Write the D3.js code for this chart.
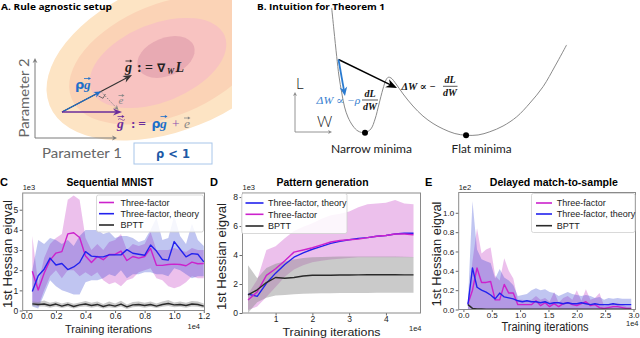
<!DOCTYPE html>
<html><head><meta charset="utf-8">
<script src="https://cdnjs.cloudflare.com/ajax/libs/d3/7.8.5/d3.min.js"></script>
<style>
html,body{margin:0;padding:0;background:#fff;}
svg{display:block;}
.mpl text{font-family:"Liberation Sans Narrow","Liberation Sans",sans-serif;}
</style></head><body>
<svg id="fig" width="640" height="338"></svg>
<script>
// ---------------- Panel C : Sequential MNIST (x: 1e4 iterations, y: 1e3) ----------------
const cX = [0.04,0.08,0.12,0.16,0.20,0.24,0.28,0.32,0.36,0.40,0.44,0.48,0.52,0.56,0.60,0.64,0.68,0.72,0.76,0.80,0.84,0.88,0.92,0.96,1.00,1.04,1.08,1.12,1.16,1.20];
const cThree   = [1.95,1.02,1.85,2.5,2.85,2.92,3.8,3.86,3.62,2.7,2.38,2.68,2.52,2.78,2.78,2.95,2.48,2.68,2.6,2.68,3.08,2.24,2.24,2.28,2.3,2.28,2.22,2.4,2.32,2.33];
const cThreeHi = [3.7,1.3,2.6,3.3,3.6,3.8,5.5,5.7,5.5,3.6,3.0,3.3,3.0,3.4,3.5,3.8,3.0,3.3,3.2,3.3,3.9,3.0,3.0,3.0,3.1,3.0,2.9,3.1,3.0,3.0];
const cThreeLo = [0.4,0.2,1.0,1.7,2.0,1.6,2.0,2.0,1.7,1.9,1.7,1.9,1.5,1.3,1.4,1.2,1.5,1.6,1.9,2.0,2.1,1.6,1.5,1.2,1.1,1.2,1.4,1.7,1.6,1.6];
const cTheory   = [0.94,1.72,2.05,2.6,2.26,2.33,2.03,2.16,2.38,2.92,2.7,2.67,2.66,2.76,2.76,2.76,3.02,2.84,2.79,2.74,3.25,2.95,2.54,2.5,3.42,3.04,2.66,2.82,2.79,2.41];
const cTheoryHi = [2.0,3.5,3.3,3.6,3.5,3.3,3.5,3.2,3.7,4.0,4.0,4.0,3.8,3.9,3.6,3.7,3.7,3.6,3.4,3.5,4.0,4.6,3.5,3.6,4.7,3.7,3.3,4.3,3.5,3.2];
const cTheoryLo = [0.2,0.1,0.8,1.5,1.2,1.0,0.9,0.8,0.8,1.4,1.5,1.5,1.6,1.8,1.7,2.0,1.6,1.8,1.8,1.9,1.9,1.8,1.8,1.7,2.1,2.0,1.8,1.6,1.7,1.7];
const cBptt   = [0.33,0.3,0.32,0.25,0.32,0.22,0.3,0.2,0.28,0.32,0.25,0.3,0.2,0.28,0.22,0.32,0.18,0.28,0.3,0.25,0.3,0.22,0.3,0.35,0.28,0.3,0.25,0.32,0.3,0.22];
const cBpttHi = [0.45,0.42,0.5,0.38,0.45,0.35,0.42,0.33,0.4,0.47,0.38,0.45,0.32,0.45,0.35,0.48,0.3,0.42,0.45,0.38,0.45,0.35,0.45,0.52,0.4,0.45,0.38,0.47,0.45,0.35];
const cBpttLo = [0.22,0.2,0.2,0.14,0.2,0.12,0.18,0.1,0.17,0.2,0.14,0.18,0.1,0.16,0.12,0.2,0.08,0.16,0.18,0.14,0.18,0.12,0.18,0.22,0.16,0.18,0.14,0.2,0.18,0.12];
const cXTicks = [0,0.2,0.4,0.6,0.8,1.0,1.2];
const cYTicks = [0,1,2,3,4,5];

// ---------------- Panel D : Pattern generation ----------------
const dX = [0.25,0.5,0.75,1.0,1.25,1.5,1.75,2.0,2.25,2.5,2.75,3.0,3.25,3.5,3.75,4.0,4.25,4.5,4.75];
const dTheory = [1.3,1.15,2.05,2.75,3.35,3.85,4.15,4.4,4.6,4.8,4.95,5.05,5.15,5.2,5.3,5.35,5.45,5.5,5.5];
const dThree  = [0.9,1.45,2.6,3.05,3.6,4.2,4.35,4.5,4.7,4.9,5.0,5.05,5.1,5.2,5.3,5.35,5.45,5.45,5.4];
const dThreeHi = [1.3,2.3,4.35,4.6,5.15,5.65,5.95,6.2,6.5,6.75,6.85,7.0,7.3,7.5,7.55,7.6,7.8,7.55,7.5];
const dThreeLo = [0.2,0.45,1.1,1.8,2.5,3.0,3.3,3.5,3.6,3.7,3.75,3.8,3.85,3.85,3.85,3.85,3.85,3.85,3.85];
const dBptt   = [1.25,1.6,2.1,2.45,2.4,2.45,2.55,2.6,2.6,2.6,2.62,2.62,2.63,2.64,2.64,2.64,2.64,2.63,2.63];
const dBpttHi = [3.3,2.4,3.1,3.4,3.55,3.7,3.8,3.85,3.87,3.88,3.9,3.9,3.9,3.9,3.9,3.9,3.9,3.88,3.87];
const dBpttLo = [0.0,0.75,1.05,1.2,1.25,1.3,1.32,1.35,1.36,1.37,1.38,1.38,1.38,1.38,1.39,1.39,1.4,1.4,1.4];
const dXTicks = [1,2,3,4];
const dYTicks = [0,2,4,6,8];

// ---------------- Panel E : Delayed match-to-sample (y: 1e2) ----------------
const eX = [0.08,0.16,0.24,0.32,0.40,0.48,0.56,0.64,0.72,0.80,0.88,0.96,1.04,1.12,1.20,1.28,1.36,1.44,1.52,1.60,1.68,1.76,1.84,1.92,2.00,2.08,2.16,2.24,2.32,2.40,2.48,2.56,2.64,2.72,2.80,2.88,2.96];
const eThree   = [0.06,0.2,0.43,0.28,0.28,0.29,0.1,0.1,0.26,0.17,0.17,0.05,0.05,0.05,0.05,0.09,0.04,0.07,0.03,0.06,0.03,0.06,0.07,0.05,0.04,0.06,0.08,0.04,0.05,0.02,0.01,0.02,0.03,0.03,0.02,0.01,0.01];
const eThreeHi = [0.07,0.5,0.84,0.58,0.62,0.64,0.35,0.3,0.53,0.4,0.32,0.1,0.1,0.09,0.1,0.14,0.1,0.12,0.08,0.18,0.07,0.12,0.14,0.1,0.2,0.09,0.21,0.1,0.12,0.17,0.04,0.05,0.06,0.07,0.05,0.03,0.03];
const eThreeLo = [0,0,0,0,0,0,0,0,0,0,0,0,0,0,0,0,0,0,0,0,0,0,0,0,0,0,0,0,0,0,0,0,0,0,0,0,0];
const eTheory   = [0.05,0.43,0.23,0.2,0.18,0.15,0.11,0.17,0.13,0.12,0.11,0.09,0.08,0.09,0.08,0.08,0.07,0.08,0.06,0.07,0.07,0.06,0.07,0.06,0.06,0.07,0.06,0.05,0.06,0.05,0.05,0.05,0.06,0.05,0.05,0.05,0.05];
const eTheoryHi = [0.08,1.12,0.62,0.52,0.5,0.48,0.32,0.42,0.33,0.3,0.25,0.14,0.15,0.16,0.2,0.22,0.2,0.21,0.18,0.17,0.14,0.16,0.18,0.16,0.15,0.14,0.15,0.14,0.12,0.13,0.1,0.12,0.11,0.12,0.11,0.11,0.11];
const eTheoryLo = [0,0,0,0,0,0,0,0,0,0,0,0,0,0,0,0,0,0,0,0,0,0,0,0,0,0,0,0,0,0,0,0,0,0,0,0,0];
const eBptt = [0.05,0.012,0.006,0.005,0.004,0.004,0.004,0.004,0.003,0.003,0.003,0.003,0.003,0.003,0.003,0.003,0.003,0.003,0.003,0.003,0.003,0.003,0.003,0.003,0.003,0.003,0.003,0.003,0.003,0.003,0.003,0.003,0.003,0.003,0.003,0.003,0.003];
const eXTicks = [0,0.5,1.0,1.5,2.0,2.5,3.0];
const eYTicks = [0,0.2,0.4,0.6,0.8,1.0];

// ---------------- Panel B : loss landscape (arbitrary units) ----------------
const bW = [1.31,1.39,1.49,1.57,1.67,1.77,1.89,2.07,2.25,2.5,2.71,2.86,3.0,3.14,3.25,3.33,3.43,3.61,3.86,4.21,4.57,4.93,5.29,5.71,6.11,6.54,6.96,7.43,7.92,8.39,8.86,9.29,9.7];
const bL = [9.43,7.86,5.95,4.57,3.36,2.36,1.64,1.0,0.64,0.52,0.79,1.5,2.57,3.64,4.29,4.48,4.43,4.0,3.29,2.43,1.71,1.18,0.79,0.46,0.34,0.36,0.59,1.0,1.66,2.64,3.81,5.29,6.79];
const bMinW = [2.5,6.11];
const bMinL = [0.52,0.34];
const bMinLabels = ["Narrow minima","Flat minima"];

// ---------------- colours ----------------
const MAG = '#cc22cc', BLU = '#2222ee', BLK = '#2a2a2a';

const svg = d3.select('#fig');
const defs = svg.append('defs');

function arrow(g, x1, y1, x2, y2, color, w, hl, hw, dash) {
  const dx = x2 - x1, dy = y2 - y1, L = Math.hypot(dx, dy), ux = dx / L, uy = dy / L;
  const bx = x2 - ux * hl, by = y2 - uy * hl;
  g.append('line').attr('x1', x1).attr('y1', y1).attr('x2', bx + ux * hl * 0.3).attr('y2', by + uy * hl * 0.3)
    .attr('stroke', color).attr('stroke-width', w).attr('stroke-dasharray', dash || null);
  g.append('path')
    .attr('d', `M${x2},${y2}L${bx - uy * hw},${by + ux * hw}L${bx + ux * hl * 0.3},${by + uy * hl * 0.3}L${bx + uy * hw},${by - ux * hw}Z`)
    .attr('fill', color);
}
function vecArrow(g, x, y, w, color) {
  g.append('line').attr('x1', x).attr('y1', y).attr('x2', x + w - 1.5).attr('y2', y).attr('stroke', color).attr('stroke-width', 0.8);
  g.append('path').attr('d', `M${x + w},${y}L${x + w - 2.6},${y - 1.6}L${x + w - 2.6},${y + 1.6}Z`).attr('fill', color);
}
function txt(g, x, y, s, o) {
  const t = g.append('text').attr('x', x).attr('y', y).text(s);
  Object.entries(o || {}).forEach(([k, v]) => t.attr(k, v));
  return t;
}

// ================= Panel A =================
const A = svg.append('g');
defs.append('clipPath').attr('id', 'clipA').append('rect').attr('x', 0).attr('y', 0).attr('width', 232).attr('height', 338);
const ellG = A.append('g').attr('clip-path', 'url(#clipA)');
[[172, 56, 132, 74, '#fde4c4'], [166, 60, 102, 56, '#fbd3b6'], [158, 63, 72, 39, '#f8c3c1'], [166, 57, 30, 19, '#e8aab3']]
  .forEach(([cx, cy, rx, ry, f]) => ellG.append('ellipse').attr('cx', 0).attr('cy', 0).attr('rx', rx).attr('ry', ry)
    .attr('transform', `translate(${cx},${cy}) rotate(-22)`).attr('fill', f));
txt(A, 1, 10, 'A. Rule agnostic setup', { 'font-family': 'Open Sans, sans-serif', 'font-weight': 'bold', 'font-size': 9.5, textLength: 111, lengthAdjust: 'spacingAndGlyphs' });
// axes
arrow(A, 35, 138, 35, 58, '#7a7a7a', 1, 5, 2.4);
arrow(A, 35, 138, 117, 138, '#7a7a7a', 1, 5, 2.4);
A.append('text').attr('transform', 'translate(29,98) rotate(-90)').attr('text-anchor', 'middle')
  .attr('font-family', 'Lato, sans-serif').attr('font-size', 12.5).attr('fill', '#666')
  .attr('textLength', 79).attr('lengthAdjust', 'spacingAndGlyphs').text('Parameter 2');
txt(A, 42, 158, 'Parameter 1', { 'font-family': 'Lato, sans-serif', 'font-size': 12.5, fill: '#666', textLength: 80, lengthAdjust: 'spacingAndGlyphs' });
// rho box
A.append('rect').attr('x', 134).attr('y', 143).attr('width', 78).attr('height', 21).attr('fill', '#fff').attr('stroke', '#a8c6ea').attr('stroke-width', 1);
txt(A, 173, 158, 'ρ < 1', { 'text-anchor': 'middle', 'font-family': 'DejaVu Sans, sans-serif', 'font-weight': 'bold', 'font-size': 11.5, fill: '#1d5aa6' });
// vectors
const O = [62, 112];
arrow(A, O[0], O[1], 132, 75, '#333', 1.1, 9, 3.6);
arrow(A, O[0], O[1], 101, 91.5, '#1f6fc9', 1.1, 7, 3);
arrow(A, O[0], O[1], 122, 112, '#6a2c9b', 1.4, 9, 3.6);
arrow(A, 101, 91.5, 118.5, 110, '#888', 1, 5, 2.4, '1.5,1.5');
A.append('path').attr('d', 'M98.5,96 L103,98.3 L105.4,94').attr('fill', 'none').attr('stroke', '#555').attr('stroke-width', 0.8);
// labels
const serif = 'Liberation Serif, DejaVu Serif, serif';
const bi = { 'font-family': serif, 'font-weight': 'bold', 'font-style': 'italic', 'font-size': 14 };
txt(A, 125, 72, 'g', Object.assign({}, bi, { fill: '#222' }));
vecArrow(A, 125.5, 61, 7, '#222');
txt(A, 137, 72, ':=', { 'font-family': serif, 'font-weight': 'bold', 'font-size': 14, fill: '#222', textLength: 16, lengthAdjust: 'spacing' });
txt(A, 157, 72, '∇', { 'font-family': 'DejaVu Sans', 'font-weight': 'bold', 'font-size': 12, fill: '#222' });
txt(A, 167, 74, 'W', { 'font-family': serif, 'font-weight': 'bold', 'font-style': 'italic', 'font-size': 8, fill: '#222' });
txt(A, 175.5, 72, 'L', Object.assign({}, bi, { fill: '#222' }));
txt(A, 75, 89, 'ρ', { 'font-family': 'DejaVu Sans', 'font-weight': 'bold', 'font-size': 13, fill: '#1f6fc9' });
txt(A, 84, 89, 'g', Object.assign({}, bi, { 'font-size': 13, fill: '#1f6fc9' }));
vecArrow(A, 84, 78.5, 7, '#1f6fc9');
txt(A, 118.5, 104, 'e', { 'font-family': serif, 'font-style': 'italic', 'font-size': 11, fill: '#888' });
vecArrow(A, 118.5, 95.5, 6, '#888');
txt(A, 117, 128, 'g', Object.assign({}, bi, { 'font-size': 13.5, fill: '#6a2c9b' }));
vecArrow(A, 117.5, 116.5, 7, '#6a2c9b');
A.append('path').attr('d', 'M118,119.5 q1.8,-1.8 3.5,0 q1.8,1.8 3.5,0').attr('fill', 'none').attr('stroke', '#6a2c9b').attr('stroke-width', 0.7);
txt(A, 131, 128, ':=', { 'font-family': serif, 'font-weight': 'bold', 'font-size': 13.5, fill: '#6a2c9b', textLength: 15, lengthAdjust: 'spacing' });
txt(A, 151.5, 128, 'ρ', { 'font-family': 'DejaVu Sans', 'font-weight': 'bold', 'font-size': 12.5, fill: '#1f6fc9' });
txt(A, 160, 128, 'g', Object.assign({}, bi, { 'font-size': 13.5, fill: '#1f6fc9' }));
vecArrow(A, 160.5, 116.5, 7, '#1f6fc9');
txt(A, 172, 128, '+', { 'font-family': serif, 'font-size': 13.5, fill: '#8a4fb0' });
txt(A, 184, 128, 'e', { 'font-family': serif, 'font-style': 'italic', 'font-size': 13.5, fill: '#888' });
vecArrow(A, 184, 118, 6.5, '#888');

// ================= Panel B =================
const B = svg.append('g');
txt(B, 257, 10, 'B. Intuition for Theorem 1', { 'font-family': 'Open Sans, sans-serif', 'font-weight': 'bold', 'font-size': 9.5, textLength: 128, lengthAdjust: 'spacingAndGlyphs' });
const xB = d3.scaleLinear().domain([0, 10]).range([295, 575]);
const yB = d3.scaleLinear().domain([0, 10]).range([140, 0]);
B.append('path').datum(bW.map((w, i) => [w, bL[i]]))
  .attr('d', d3.line().x(d => xB(d[0])).y(d => yB(d[1])).curve(d3.curveCatmullRom.alpha(0.5)))
  .attr('fill', 'none').attr('stroke', '#8a8a8a').attr('stroke-width', 1);
B.selectAll('circle.min').data(bMinW).join('circle').attr('class', 'min')
  .attr('cx', d => xB(d)).attr('cy', (d, i) => yB(bMinL[i])).attr('r', 3).attr('fill', '#000');
B.selectAll('text.min').data(bMinLabels).join('text').attr('class', 'min')
  .attr('x', (d, i) => xB(bMinW[i]) + (i === 0 ? 6.5 : 15.5)).attr('y', 152.5).attr('text-anchor', 'middle')
  .attr('font-family', 'Lato, sans-serif').attr('font-size', 11.5).attr('fill', '#222')
  .attr('textLength', (d, i) => i === 0 ? 81 : 60).attr('lengthAdjust', 'spacingAndGlyphs').text(d => d);
// mini axes
arrow(B, 295, 132, 295, 92, '#888', 0.9, 4, 2);
arrow(B, 295, 132, 332, 132, '#888', 0.9, 4, 2);
txt(B, 296, 88.5, 'L', { 'font-family': 'Lato, sans-serif', 'font-weight': 300, 'font-size': 15, fill: '#222' });
txt(B, 317, 127, 'W', { 'font-family': 'Lato, sans-serif', 'font-weight': 300, 'font-size': 15, fill: '#222' });
// update arrows
arrow(B, 338.5, 59.5, 397, 88, '#000', 1.4, 11, 4.5);
arrow(B, 338.5, 59.5, 345, 96, '#2a7bd0', 1.8, 9, 3.8);
const fr = { 'font-family': serif, 'font-weight': 'bold', 'font-style': 'italic', 'font-size': 10, fill: '#111' };
txt(B, 401.5, 90, 'ΔW ∝ −', Object.assign({}, fr, { textLength: 34, lengthAdjust: 'spacingAndGlyphs' }));
txt(B, 450, 83, 'dL', Object.assign({}, fr, { 'text-anchor': 'middle' }));
B.append('line').attr('x1', 443).attr('x2', 457.5).attr('y1', 86.3).attr('y2', 86.3).attr('stroke', '#111').attr('stroke-width', 0.7);
txt(B, 450, 96, 'dW', Object.assign({}, fr, { 'text-anchor': 'middle' }));
txt(B, 316.5, 103.5, 'ΔW ∝ −ρ', { 'font-family': serif, 'font-style': 'italic', 'font-size': 10, fill: '#3a7fd0', textLength: 44, lengthAdjust: 'spacingAndGlyphs' });
txt(B, 370, 97, 'dL', Object.assign({}, fr, { 'text-anchor': 'middle' }));
B.append('line').attr('x1', 362).attr('x2', 378).attr('y1', 100).attr('y2', 100).attr('stroke', '#111').attr('stroke-width', 0.7);
txt(B, 370, 110, 'dW', Object.assign({}, fr, { 'text-anchor': 'middle' }));

// ================= Matplotlib-style panels =================
function drawPanel(p) {
  const g = svg.append('g').attr('class', 'mpl');
  const x = d3.scaleLinear().domain(p.xDomain).range([p.left, p.right]);
  const y = d3.scaleLinear().domain(p.yDomain).range([p.bottom, p.top]);
  const cid = 'clip' + p.letter;
  defs.append('clipPath').attr('id', cid).append('rect').attr('x', p.left).attr('y', p.top).attr('width', p.right - p.left).attr('height', p.bottom - p.top);
  const plot = g.append('g').attr('clip-path', `url(#${cid})`);
  p.bands.forEach(b => {
    plot.append('path').datum(p.xs)
      .attr('d', d3.area().x(d => x(d)).y0((d, i) => y(b.lo[i])).y1((d, i) => y(b.hi[i])))
      .attr('fill', b.color).attr('fill-opacity', b.opacity).attr('stroke', 'none');
  });
  p.lines.forEach(l => {
    plot.append('path').datum(p.xs)
      .attr('d', d3.line().x(d => x(d)).y((d, i) => y(l.v[i])))
      .attr('fill', 'none').attr('stroke', l.color).attr('stroke-width', 1.4).attr('stroke-linejoin', 'round');
  });
  // axes
  const ax = g.append('g').attr('transform', `translate(0,${p.bottom})`)
    .call(d3.axisBottom(x).tickValues(p.xTicks).tickFormat(p.xFmt).tickSize(2.5).tickPadding(0));
  const ay = g.append('g').attr('transform', `translate(${p.left},0)`)
    .call(d3.axisLeft(y).tickValues(p.yTicks).tickFormat(p.yFmt).tickSize(3).tickPadding(1.5));
  [ax, ay].forEach(a => {
    a.select('.domain').remove();
    a.selectAll('line').attr('stroke', '#444').attr('stroke-width', 0.8);
    a.selectAll('text').attr('font-size', p.tickFont).attr('fill', '#222').attr('font-family', '"Liberation Sans Narrow","Liberation Sans",sans-serif');
  });
  g.append('rect').attr('x', p.left).attr('y', p.top).attr('width', p.right - p.left).attr('height', p.bottom - p.top)
    .attr('fill', 'none').attr('stroke', '#8a8a8a').attr('stroke-width', 1);
  // legend
  const lg = g.append('g');
  lg.append('rect').attr('x', p.leg.x).attr('y', p.leg.y).attr('width', p.leg.w).attr('height', p.leg.h).attr('rx', 2)
    .attr('fill', '#fff').attr('fill-opacity', 0.85).attr('stroke', '#cfcfcf').attr('stroke-width', 0.8);
  p.leg.items.forEach((it, i) => {
    const yy = p.leg.rows[i];
    lg.append('line').attr('x1', p.leg.hx).attr('x2', p.leg.hx + p.leg.hw).attr('y1', yy).attr('y2', yy)
      .attr('stroke', it.color).attr('stroke-width', 1.6);
    lg.append('text').attr('x', p.leg.tx).attr('y', yy + 3.2).attr('font-size', 9).attr('fill', '#222').text(it.label);
  });
  // texts
  txt(g, p.letterX, 185.5, p.letter, { 'font-family': 'Open Sans, sans-serif', 'font-weight': 'bold', 'font-size': 11 });
  txt(g, p.titleX, 185.5, p.title, { 'text-anchor': 'middle', 'font-family': 'Open Sans, sans-serif', 'font-weight': 'bold', 'font-size': 10.5, textLength: p.titleW, lengthAdjust: 'spacingAndGlyphs' });
  txt(g, p.left, 190, p.yExp, { 'font-size': 7.5, fill: '#222' });
  txt(g, p.xExpX, p.xExpY, p.xExp, { 'text-anchor': 'end', 'font-size': 7.5, fill: '#222' });
  txt(g, p.xlabX, p.xlabY, 'Training iterations', { 'text-anchor': 'middle', 'font-family': 'Lato, sans-serif', 'font-size': p.xlabFont, fill: '#222', textLength: p.xlabW, lengthAdjust: 'spacingAndGlyphs' });
  g.append('text').attr('transform', `translate(${p.ylabX},${p.ylabY}) rotate(-90)`).attr('text-anchor', 'middle').attr('font-family', 'Lato, sans-serif')
    .attr('font-size', 12.5).attr('fill', '#222').attr('textLength', p.ylabW).attr('lengthAdjust', 'spacingAndGlyphs').text('1st Hessian eigval');
}

const PINK = '#c030c0', LAV = '#3040d0', GRY = '#8a8a8a';
const f1 = d3.format('.1f');

drawPanel({
  letter: 'C', letterX: 0, title: 'Sequential MNIST', titleX: 110, titleW: 87,
  left: 22.7, right: 204.5, top: 193, bottom: 310.5, tickFont: 8.5,
  xDomain: [-0.025, 1.205], yDomain: [0, 5.83], xs: cX,
  xTicks: cXTicks, xFmt: f1, yTicks: cYTicks, yFmt: d3.format('d'),
  bands: [
    { hi: cThreeHi, lo: cThreeLo, color: PINK, opacity: 0.3 },
    { hi: cTheoryHi, lo: cTheoryLo, color: LAV, opacity: 0.3 },
    { hi: cBpttHi, lo: cBpttLo, color: GRY, opacity: 0.45 }
  ],
  lines: [{ v: cThree, color: MAG }, { v: cTheory, color: BLU }, { v: cBptt, color: BLK }],
  leg: { x: 96.5, y: 195, w: 107, h: 37, hx: 99, hw: 15, tx: 120.5, rows: [202.5, 213.7, 225],
    items: [{ label: 'Three-factor', color: MAG }, { label: 'Three-factor, theory', color: BLU }, { label: 'BPTT', color: BLK }] },
  yExp: '1e3', xExp: '1e4', xExpX: 200, xExpY: 328.5,
  xlabX: 108.5, xlabY: 333, xlabW: 87, xlabFont: 11.5, ylabX: 12, ylabY: 254, ylabW: 108
});

drawPanel({
  letter: 'D', letterX: 210, title: 'Pattern generation', titleX: 322.5, titleW: 92,
  left: 242.5, right: 420.5, top: 193, bottom: 313, tickFont: 8.5,
  xDomain: [0.1, 4.94], yDomain: [0, 8.28], xs: dX,
  xTicks: dXTicks, xFmt: d3.format('d'), yTicks: dYTicks, yFmt: d3.format('d'),
  bands: [
    { hi: dThreeHi, lo: dThreeLo, color: PINK, opacity: 0.3 },
    { hi: dBpttHi, lo: dBpttLo, color: GRY, opacity: 0.45 }
  ],
  lines: [{ v: dTheory, color: BLU }, { v: dThree, color: MAG }, { v: dBptt, color: BLK }],
  leg: { x: 241.5, y: 193.5, w: 105.5, h: 40, hx: 245.5, hw: 18, tx: 268, rows: [203, 214.3, 226],
    items: [{ label: 'Three-factor, theory', color: BLU }, { label: 'Three-factor', color: MAG }, { label: 'BPTT', color: BLK }] },
  yExp: '1e3', xExp: '1e4', xExpX: 421.5, xExpY: 330.5,
  xlabX: 331.5, xlabY: 335.5, xlabW: 98, xlabFont: 11.5, ylabX: 226, ylabY: 256.5, ylabW: 107
});

drawPanel({
  letter: 'E', letterX: 425, title: 'Delayed match-to-sample', titleX: 553.8, titleW: 128,
  left: 458.7, right: 635.5, top: 192.5, bottom: 309.5, tickFont: 8,
  xDomain: [-0.083, 3.035], yDomain: [0, 1.21], xs: eX,
  xTicks: eXTicks, xFmt: f1, yTicks: eYTicks, yFmt: f1,
  bands: [
    { hi: eThreeHi, lo: eThreeLo, color: PINK, opacity: 0.3 },
    { hi: eTheoryHi, lo: eTheoryLo, color: LAV, opacity: 0.3 }
  ],
  lines: [{ v: eThree, color: MAG }, { v: eTheory, color: BLU }, { v: eBptt, color: BLK }],
  leg: { x: 531.5, y: 193.5, w: 103.5, h: 39, hx: 536, hw: 16, tx: 556.7, rows: [203, 214, 225.7],
    items: [{ label: 'Three-factor', color: MAG }, { label: 'Three-factor, theory', color: BLU }, { label: 'BPTT', color: BLK }] },
  yExp: '1e2', xExp: '1e4', xExpX: 638.5, xExpY: 325.5,
  xlabX: 545, xlabY: 331, xlabW: 87, xlabFont: 12, ylabX: 441, ylabY: 254, ylabW: 105
});
</script>
</body></html>
